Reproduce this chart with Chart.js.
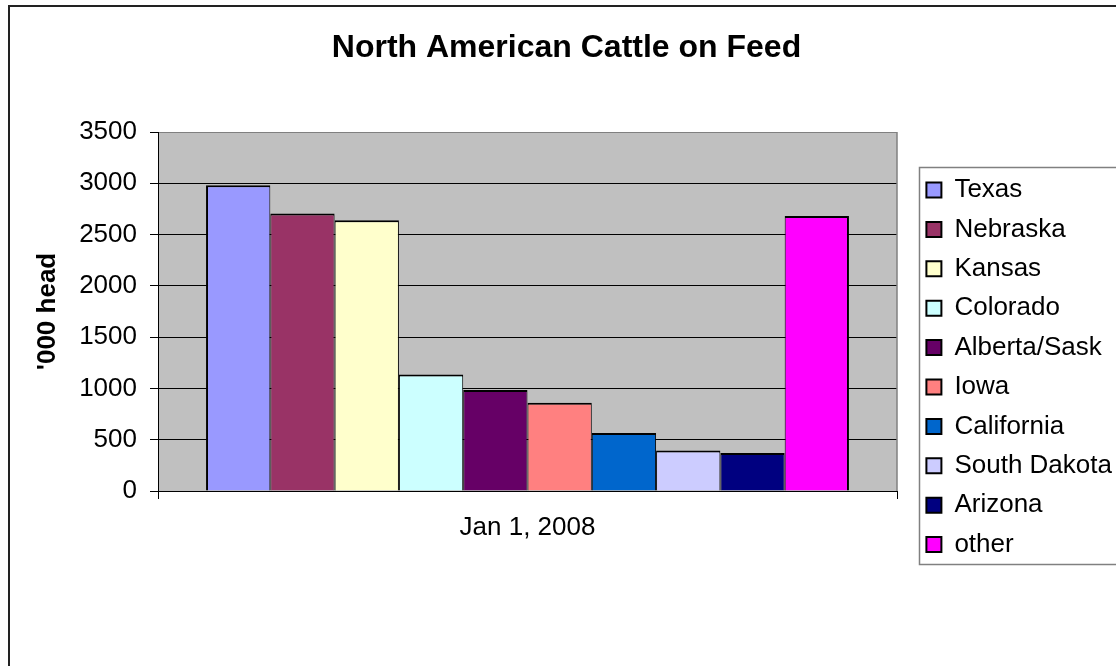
<!DOCTYPE html>
<html>
<head>
<meta charset="utf-8">
<script src="https://cdn.jsdelivr.net/npm/chart.js@4"></script>
<style>
html, body { margin: 0; padding: 0; background: #fff; overflow: hidden; }
canvas { display: block; }
</style>
</head>
<body>
<canvas id="cattle" width="1116" height="666"></canvas>
<script>
// data, '000 head on feed
const chartTitle = "North American Cattle on Feed";
const yTitle = "'000 head";
const dates = ["Jan 1, 2008"];
const regions = ["Texas", "Nebraska", "Kansas", "Colorado", "Alberta/Sask", "Iowa", "California", "South Dakota", "Arizona", "other"];
const head = [2980, 2705, 2640, 1135, 985, 860, 565, 395, 370, 2680];
const colors = ["#9999FF", "#993366", "#FFFFCC", "#CCFFFF", "#660066", "#FF8080", "#0066CC", "#CCCCFF", "#000080", "#FF00FF"];
const yMax = 3500;
const yStep = 500;

Chart.defaults.font.family = "'Liberation Sans', Arial, sans-serif";
Chart.defaults.color = "#000";

var datasets = [];
for (var i = 0; i < regions.length; i++) {
    datasets.push({
        label: regions[i],
        data: [head[i]],
        backgroundColor: colors[i],
        borderColor: "#000",
        // neighbours share an edge, so 1+1 px inside, 2 px on the outer sides
        borderWidth: {
            top: 2,
            left: i === 0 ? 2 : 1,
            right: i === regions.length - 1 ? 2 : 1,
            bottom: 0
        },
        categoryPercentage: 0.87,
        barPercentage: 1
    });
}

// excel-like frame: outer border, grey plot area, legend box
const frame = {
    id: "frame",
    beforeLayout(chart) {
        const lg = chart.legend;
        if (lg && !lg.fixedFit) {
            const fit = lg.fit;
            lg.fit = function () { fit.call(this); this.width = 219; };
            lg.fixedFit = true;
        }
    },
    afterLayout(chart) {
        const lg = chart.legend;
        lg.left = 913;
        lg.right = 1116;
        lg.width = 203;
        lg.top = 163.6;
        lg.bottom = 666;
        lg.height = 666 - 163.6;
    },
    beforeDraw(chart) {
        const ctx = chart.ctx;
        const a = chart.chartArea;
        ctx.save();
        ctx.fillStyle = "#fff";
        ctx.fillRect(0, 0, chart.width, chart.height);
        ctx.strokeStyle = "#222";
        ctx.lineWidth = 2;
        ctx.strokeRect(9, 6, 1300, 900);
        ctx.fillStyle = "#C0C0C0";
        ctx.fillRect(a.left, a.top, a.right - a.left, a.bottom - a.top);
        ctx.restore();
    },
    afterDraw(chart) {
        const ctx = chart.ctx;
        const a = chart.chartArea;
        ctx.save();
        ctx.strokeStyle = "#808080";
        ctx.lineWidth = 1.5;
        ctx.beginPath();
        ctx.moveTo(a.right, a.top);
        ctx.lineTo(a.right, a.bottom);
        ctx.stroke();
        ctx.strokeRect(919.5, 167.5, 400, 397);
        ctx.restore();
    }
};

new Chart(document.getElementById("cattle").getContext("2d"), {
    type: "bar",
    data: {
        labels: dates,
        datasets: datasets
    },
    options: {
        responsive: false,
        animation: false,
        layout: { padding: { left: 17, right: 0, top: 0, bottom: 0 } },
        plugins: {
            title: {
                display: true,
                text: chartTitle,
                font: { size: 32, weight: "bold" },
                padding: { top: 28.8, bottom: 64.8 }
            },
            legend: {
                position: "right",
                align: "start",
                labels: {
                    font: { size: 26 },
                    boxWidth: 15,
                    boxHeight: 15,
                    padding: 13.4,
                    generateLabels: function (chart) {
                        const items = Chart.defaults.plugins.legend.labels.generateLabels(chart);
                        items.forEach(function (it) { it.lineWidth = 2; });
                        return items;
                    }
                }
            },
            tooltip: { enabled: false }
        },
        scales: {
            x: {
                grid: { display: true, drawOnChartArea: false, drawTicks: true, tickLength: 8, color: "#000", offset: true },
                border: { display: true, color: "#000", width: 1 },
                ticks: { font: { size: 26 }, padding: 13, maxRotation: 0 },
                afterFit(s) { s.height = 175; }
            },
            y: {
                min: 0,
                max: yMax,
                ticks: {
                    stepSize: yStep,
                    font: { size: 26 },
                    padding: 13,
                    callback: function (v) { return String(v); }
                },
                grid: {
                    color: function (c) { return c.tick && c.tick.value === yMax ? "#808080" : "#000"; },
                    tickColor: "#000",
                    tickLength: 8
                },
                border: { color: "#000", width: 1 },
                title: {
                    display: true,
                    text: yTitle,
                    font: { size: 26, weight: "bold" },
                    padding: { top: 15.4, bottom: 0 }
                },
                afterFit(s) { s.width = 141; }
            }
        }
    },
    plugins: [frame]
});
</script>
</body>
</html>
